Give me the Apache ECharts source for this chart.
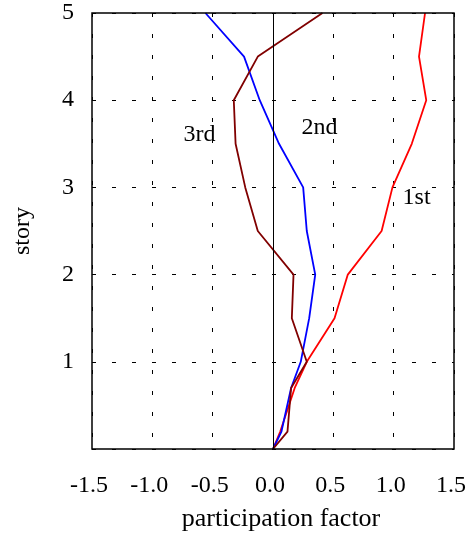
<!DOCTYPE html>
<html>
<head>
<meta charset="utf-8">
<script src="https://cdn.jsdelivr.net/npm/echarts@6/dist/echarts.min.js"></script>
<style>
  html, body { margin: 0; padding: 0; background: #fff; }
  #main { width: 469px; height: 537px; }
</style>
</head>
<body>
<div id="main"></div>
<script>
// story heights of the nodes (shared by the three modes)
var heights = [0, 0.2, 0.7, 1, 1.5, 2, 2.5, 3, 3.5, 4, 4.5, 5];
// participation factor of each mode at those heights
var mode1 = [0, 0.06, 0.18, 0.28, 0.51, 0.62, 0.9, 0.99, 1.15, 1.27, 1.21, 1.26];
var mode2 = [0, 0.07, 0.15, 0.23, 0.3, 0.35, 0.28, 0.25, 0.05, -0.11, -0.24, -0.56];
var mode3 = [0, 0.12, 0.15, 0.28, 0.156, 0.17, -0.126, -0.23, -0.31, -0.325, -0.126, 0.41];
var modeNames = ['1st', '2nd', '3rd'];
var xTicks = [-1.5, -1.0, -0.5, 0.0, 0.5, 1.0, 1.5];
var yTicks = [0, 1, 2, 3, 4, 5];

var font = 'Liberation Serif, Times New Roman, serif';

function pairs(vals) {
  return vals.map(function (v, i) { return [v, heights[i]]; });
}

// where the mode names sit, in data coordinates
var namePos = { '1st': [1.19, 2.88], '2nd': [0.385, 3.68], '3rd': [-0.61, 3.61] };

function modeSeries(name, vals, color) {
  return {
    name: name,
    type: 'line',
    data: pairs(vals),
    symbol: 'none',
    lineStyle: { color: color, width: 1.8 },
    z: 3
  };
}

var myChart = echarts.init(document.getElementById('main'));
var option = {
  animation: false,
  grid: { left: 92, right: 15, top: 13, bottom: 87 },
  xAxis: {
    type: 'value',
    min: xTicks[0],
    max: xTicks[xTicks.length - 1],
    interval: 0.5,
    name: 'participation factor',
    nameLocation: 'middle',
    nameGap: 57,
    nameTextStyle: { color: '#000', fontFamily: font, fontSize: 26, padding: [0, 0, 0, 16] },
    axisLine: { show: false },
    axisTick: { show: false },
    axisLabel: {
      margin: 25, color: '#000', fontFamily: font, fontSize: 24, padding: [0, 6, 0, 0],
      formatter: function (v) { return v.toFixed(1); }
    },
    splitLine: { show: true, lineStyle: { color: '#000', type: [4, 17], width: 1 } }
  },
  yAxis: {
    type: 'value',
    min: yTicks[0],
    max: yTicks[yTicks.length - 1],
    interval: 1,
    name: 'story',
    nameLocation: 'middle',
    nameGap: 57,
    nameTextStyle: { color: '#000', fontFamily: font, fontSize: 24 },
    axisLine: { show: false },
    axisTick: { show: false },
    axisLabel: {
      margin: 18, color: '#000', fontFamily: font, fontSize: 24,
      formatter: function (v) { return v === 0 ? '' : String(v); }
    },
    splitLine: { show: true, lineStyle: { color: '#000', type: [4, 16], width: 1 } }
  },
  series: [
    modeSeries('1st', mode1, '#ff0000'),
    modeSeries('2nd', mode2, '#0000ff'),
    modeSeries('3rd', mode3, '#800000'),
    {
      // zero line
      type: 'line',
      data: [],
      silent: true,
      markLine: {
        symbol: 'none',
        silent: true,
        label: { show: false },
        lineStyle: { color: '#000', type: 'solid', width: 1 },
        data: [{ xAxis: 0 }]
      }
    }
  ]
};
myChart.setOption(option);

// frame around the plot area and the mode names
var tl = myChart.convertToPixel({ gridIndex: 0 }, [xTicks[0], yTicks[yTicks.length - 1]]);
var br = myChart.convertToPixel({ gridIndex: 0 }, [xTicks[xTicks.length - 1], yTicks[0]]);
var graphics = [{
  type: 'rect',
  shape: { x: tl[0], y: tl[1], width: br[0] - tl[0], height: br[1] - tl[1] },
  style: { fill: null, stroke: '#000', lineWidth: 1.5 },
  silent: true,
  z: 10
}];
modeNames.forEach(function (n) {
  var p = myChart.convertToPixel({ gridIndex: 0 }, namePos[n]);
  graphics.push({
    type: 'text',
    x: p[0], y: p[1],
    style: { text: n, fill: '#000', font: '24px ' + font, align: 'center', verticalAlign: 'middle' },
    silent: true,
    z: 10
  });
});
myChart.setOption({ graphic: graphics });
</script>
</body>
</html>
